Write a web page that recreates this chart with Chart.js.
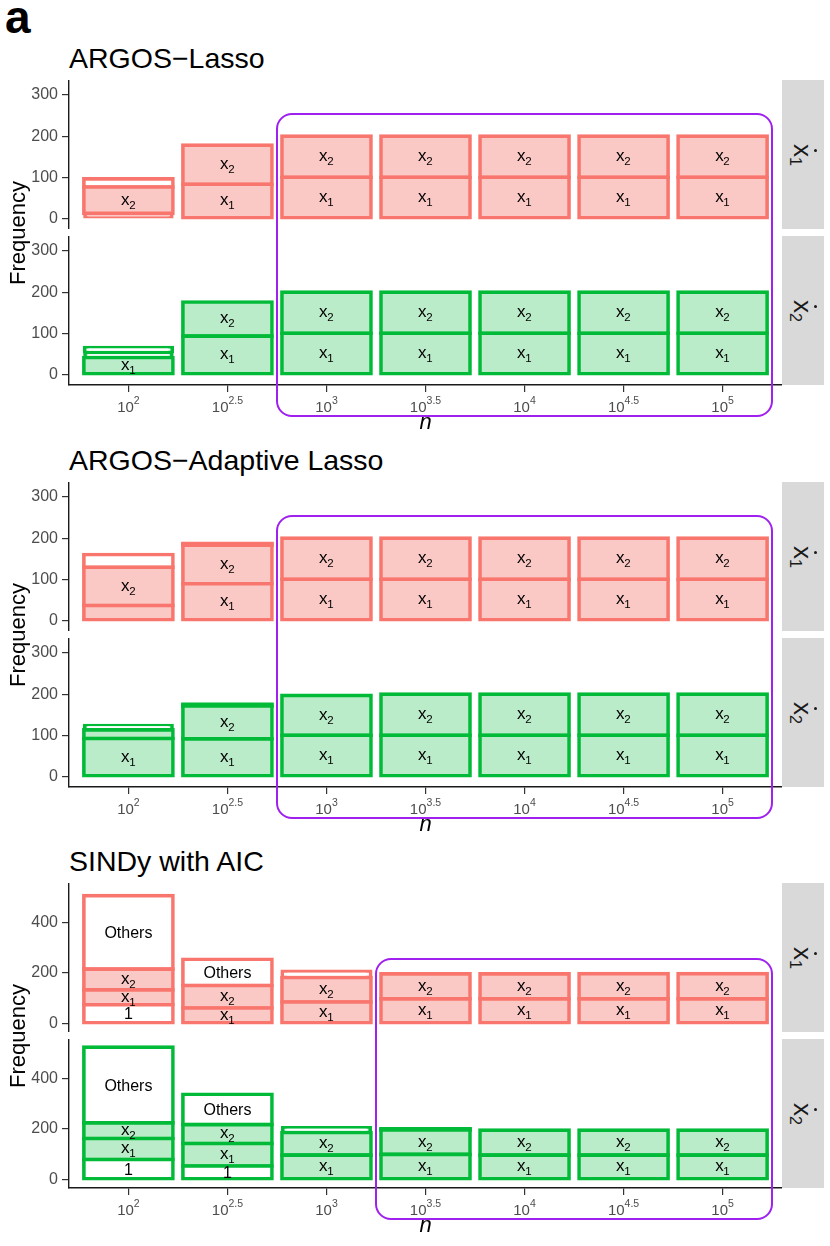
<!DOCTYPE html>
<html>
<head>
<meta charset="utf-8">
<script src="https://cdn.jsdelivr.net/npm/chart.js@4.4.1/dist/chart.umd.min.js"></script>
<style>
  html, body { margin:0; padding:0; background:#fff; }
  body { width:830px; height:1246px; position:relative; overflow:hidden;
         font-family:"Liberation Sans", Arial, Helvetica, sans-serif; color:#000; }
  canvas { position:absolute; left:0; }
  .title { position:absolute; left:69px; font-size:28.5px; line-height:28px; white-space:nowrap; }
  .tag { position:absolute; left:5px; top:-6px; font-size:46px; line-height:46px; font-weight:bold; }
  .ylab { position:absolute; width:200px; text-align:center; font-size:22px; line-height:22px;
          transform:rotate(-90deg); white-space:nowrap; }
  .xlab { position:absolute; width:60px; text-align:center; font-size:22px; line-height:22px; font-style:italic; }
  .strip { position:absolute; left:782px; width:42px; background:#D9D9D9; }
  .stxt { position:absolute; left:50%; top:50%; transform:translate(-50%,-50%) rotate(90deg);
          font-size:26px; line-height:26px; white-space:nowrap; color:#1A1A1A; }
  .stxt .xd { position:relative; display:inline-block; }
  .stxt .dot { position:absolute; left:50%; top:-1px; width:3px; height:3px; margin-left:-1.5px;
               border-radius:50%; background:#1A1A1A; }
  .stxt sub { font-size:16px; vertical-align:-4px; line-height:0; }
  .hl { position:absolute; border:2.7px solid #A020F0; border-radius:16px; box-sizing:border-box; pointer-events:none; }
</style>
</head>
<body>
<div id="root"></div>
<script>
// ---------------- data ----------------
const exponents = ['2', '2.5', '3', '3.5', '4', '4.5', '5'];   // n = 10^e

const argosTicks = [0, 100, 200, 300];
const sindyTicks = [0, 200, 400];

// ARGOS-Lasso, x1-dot
const lassoX1_x1     = [12, 83, 100, 100, 100, 100, 100];
const lassoX1_x2     = [64, 95, 100, 100, 100, 100, 100];
const lassoX1_other  = [20, 0, 0, 0, 0, 0, 0];
// ARGOS-Lasso, x2-dot
const lassoX2_x1     = [41, 93, 100, 100, 100, 100, 100];
const lassoX2_x2     = [0, 83, 100, 100, 100, 100, 100];
const lassoX2_other  = [12, 0, 0, 0, 0, 0, 0];
const lassoX2_other2 = [14, 0, 0, 0, 0, 0, 0];

// ARGOS-Adaptive Lasso, x1-dot
const adaX1_x1    = [36, 89, 100, 100, 100, 100, 100];
const adaX1_x2    = [93, 94, 100, 100, 100, 100, 100];
const adaX1_other = [31, 4, 0, 0, 0, 0, 0];
// ARGOS-Adaptive Lasso, x2-dot
const adaX2_x1    = [92, 91, 100, 100, 100, 100, 100];
const adaX2_x2    = [21, 80, 97, 100, 100, 100, 100];
const adaX2_other = [13, 4, 0, 0, 0, 0, 0];

// SINDy with AIC, x1-dot
const sinX1_one    = [74, 0, 0, 0, 0, 0, 0];
const sinX1_x1     = [59, 61, 85, 97, 97, 97, 97];
const sinX1_x2     = [82, 89, 97, 99, 99, 100, 100];
const sinX1_others = [291, 104, 26, 0, 0, 0, 0];
// SINDy with AIC, x2-dot
const sinX2_one    = [79, 53, 0, 0, 0, 0, 0];
const sinX2_x1     = [83, 89, 96, 99, 96, 96, 96];
const sinX2_x2     = [62, 75, 90, 97, 99, 99, 99];
const sinX2_others = [300, 120, 22, 4, 0, 0, 0];

const LABEL_MIN = 40;   // segments smaller than this carry no text

// ---------------- styling / layout ----------------
const FONT = '"Liberation Sans", Arial, Helvetica, sans-serif';
Chart.defaults.font.family = FONT;
const RED   = { line: '#F8766D', fill: '#FBC9C5' };
const GREEN = { line: '#00BA38', fill: '#BBECC9' };
const PANEL_H = 149, GAP = 7, PLOT_LEFT = 69, PLOT_RIGHT = 782, X_AREA = 42;
const BW = 3.6;

const groups = [
  { title: 'ARGOS−Lasso', top: 80, yMin: -26, yMax: 336.5, ticks: argosTicks, hl: 2, boxTop: 252,
    panels: [
      { strip: '1', col: RED,   series: [['x1', lassoX1_x1], ['x2', lassoX1_x2], ['Others', lassoX1_other]] },
      { strip: '2', col: GREEN, series: [['x1', lassoX2_x1], ['x2', lassoX2_x2], ['Others', lassoX2_other], ['Others', lassoX2_other2]] }
    ] },
  { title: 'ARGOS−Adaptive Lasso', top: 482, yMin: -26, yMax: 336.5, ticks: argosTicks, hl: 2, boxTop: 252,
    panels: [
      { strip: '1', col: RED,   series: [['x1', adaX1_x1], ['x2', adaX1_x2], ['Others', adaX1_other]] },
      { strip: '2', col: GREEN, series: [['x1', adaX2_x1], ['x2', adaX2_x2], ['Others', adaX2_other]] }
    ] },
  { title: 'SINDy with AIC', top: 883, yMin: -34, yMax: 556, ticks: sindyTicks, hl: 3, boxTop: 252,
    panels: [
      { strip: '1', col: RED,   series: [['1', sinX1_one], ['x1', sinX1_x1], ['x2', sinX1_x2], ['Others', sinX1_others]] },
      { strip: '2', col: GREEN, series: [['1', sinX2_one], ['x1', sinX2_x1], ['x2', sinX2_x2], ['Others', sinX2_others]] }
    ] }
];

// ---------------- plugins ----------------
function drawTerm(ctx, term, cx, cy) {
  ctx.save();
  ctx.fillStyle = '#000';
  ctx.textBaseline = 'alphabetic';
  const m = /^x(\d)$/.exec(term);
  if (m) {
    ctx.font = '17px ' + FONT;
    const wx = ctx.measureText('x').width;
    ctx.font = '11.5px ' + FONT;
    const ws = ctx.measureText(m[1]).width;
    const x0 = cx - (wx + ws) / 2;
    ctx.textAlign = 'left';
    ctx.font = '17px ' + FONT;
    ctx.fillText('x', x0, cy + 4.4);
    ctx.font = '11.5px ' + FONT;
    ctx.fillText(m[1], x0 + wx - 0.3, cy + 8.4);
  } else {
    ctx.font = '16px ' + FONT;
    ctx.textAlign = 'center';
    ctx.fillText(term, cx, cy + 5.7);
  }
  ctx.restore();
}

const segLabels = {
  id: 'segLabels',
  afterDatasetsDraw(chart) {
    chart.data.datasets.forEach((ds, di) => {
      const meta = chart.getDatasetMeta(di);
      meta.data.forEach((el, i) => {
        const v = ds.data[i].y;
        if (v == null || v < LABEL_MIN) return;
        drawTerm(chart.ctx, ds.label, el.x, (el.y + el.base) / 2);
      });
    });
  }
};

const xTickLabels = {
  id: 'xTickLabels',
  afterDraw(chart) {
    if (!chart.options.plugins.xTickLabels || !chart.options.plugins.xTickLabels.show) return;
    const ctx = chart.ctx, xs = chart.scales.x, yb = chart.chartArea.bottom;
    ctx.save();
    ctx.fillStyle = '#4D4D4D';
    ctx.textAlign = 'left';
    ctx.textBaseline = 'alphabetic';
    exponents.forEach((e, i) => {
      const px = xs.getPixelForValue(i);
      ctx.font = '15px ' + FONT;
      const wb = ctx.measureText('10').width;
      ctx.font = '10.5px ' + FONT;
      const we = ctx.measureText(e).width;
      const x0 = px - (wb + we) / 2;
      ctx.font = '15px ' + FONT;
      ctx.fillText('10', x0, yb + 27);
      ctx.font = '10.5px ' + FONT;
      ctx.fillText(e, x0 + wb, yb + 19);
    });
    ctx.restore();
  }
};

// ---------------- build ----------------
const root = document.getElementById('root');
function addDiv(cls, html, style) {
  const d = document.createElement('div');
  d.className = cls;
  d.innerHTML = html;
  Object.assign(d.style, style);
  root.appendChild(d);
  return d;
}

// pixel height of one stacked segment, through the chart's own y scale
function segPx(c, v) {
  const y = c.chart.scales.y;
  return Math.abs(y.getPixelForValue(v) - y.getPixelForValue(0));
}

function makeDatasets(panel) {
  return panel.series.map(([term, arr]) => {
    const baseFill = (term === 'x1' || term === 'x2') ? panel.col.fill : '#FFFFFF';
    return {
      label: term,
      data: arr.map((v, i) => ({ x: i, y: v > 0 ? v : null })),
      borderColor: panel.col.line,
      borderSkipped: false,
      clip: false,
      // outlines are centred on the segment edges (as in the original): thin segments become solid lines
      backgroundColor: (c) => {
        if (c.dataIndex === undefined) return baseFill;
        return segPx(c, arr[c.dataIndex]) < BW ? panel.col.line : baseFill;
      },
      borderWidth: (c) => {
        if (c.dataIndex === undefined) return BW;
        return segPx(c, arr[c.dataIndex]) < BW ? 0 : BW;
      },
      inflateAmount: (c) => {
        if (c.dataIndex === undefined) return BW / 2;
        const h = segPx(c, arr[c.dataIndex]);
        if (h >= 2 * BW || h < BW) return BW / 2;
        return (h - BW) / 2;
      },
      barPercentage: 0.9,
      categoryPercentage: 1,
      stack: 's'
    };
  });
}

function makeChart(canvas, g, panel, showX) {
  return new Chart(canvas, {
    type: 'bar',
    data: { datasets: makeDatasets(panel) },
    options: {
      responsive: false,
      animation: false,
      events: [],
      devicePixelRatio: 1,
      layout: { padding: 0 },
      plugins: { legend: { display: false }, tooltip: { enabled: false }, xTickLabels: { show: showX } },
      scales: {
        x: {
          type: 'linear', stacked: true, offset: false,
          min: -0.6, max: exponents.length - 1 + 0.6,
          display: showX,
          afterBuildTicks: (s) => { s.ticks = exponents.map((e, i) => ({ value: i })); },
          afterFit: (s) => { s.height = showX ? X_AREA : 0; s.paddingLeft = 0; s.paddingRight = 0; },
          ticks: { display: false },
          grid: { display: true, drawOnChartArea: false, drawTicks: true, tickLength: 7, color: '#333333', lineWidth: 1.2, offset: false },
          border: { display: true, color: '#1A1A1A', width: 1.4 }
        },
        y: {
          stacked: true,
          min: g.yMin, max: g.yMax,
          afterBuildTicks: (s) => { s.ticks = g.ticks.map(v => ({ value: v })); },
          afterFit: (s) => { s.width = PLOT_LEFT; s.paddingTop = 0; s.paddingBottom = 0; },
          ticks: { color: '#4D4D4D', font: { size: 16 }, padding: 4 },
          grid: { display: true, drawOnChartArea: false, drawTicks: true, tickLength: 7, color: '#333333', lineWidth: 1.2 },
          border: { display: true, color: '#1A1A1A', width: 1.4 }
        }
      }
    },
    plugins: [segLabels, xTickLabels]
  });
}

addDiv('tag', 'a', {});

groups.forEach((g) => {
  const T = g.top;
  addDiv('title', g.title, { top: (T - 12.3 - 23.7) + 'px' });
  const charts = [];
  g.panels.forEach((p, pi) => {
    const top = T + pi * (PANEL_H + GAP);
    const showX = pi === g.panels.length - 1;
    const cv = document.createElement('canvas');
    cv.width = PLOT_RIGHT;
    cv.height = PANEL_H + (showX ? X_AREA : 0);
    cv.style.top = top + 'px';
    cv.style.width = cv.width + 'px';
    cv.style.height = cv.height + 'px';
    root.appendChild(cv);
    charts.push({ chart: makeChart(cv, g, p, showX), top });
    addDiv('strip',
      '<div class="stxt"><span class="xd">x<span class="dot"></span></span><sub>' + p.strip + '</sub></div>',
      { top: top + 'px', height: PANEL_H + 'px' });
  });
  const cy = T + (PANEL_H * 2 + GAP) / 2;
  addDiv('ylab', 'Frequency', { left: (18.4 - 100) + 'px', top: (cy - 11) + 'px' });
  const bottom = charts[charts.length - 1];
  const axisY = bottom.top + bottom.chart.chartArea.bottom;
  const xs = bottom.chart.scales.x;
  const mid = (bottom.chart.chartArea.left + bottom.chart.chartArea.right) / 2;
  addDiv('xlab', 'n', { left: (mid - 30) + 'px', top: (axisY + 45 - 18.6) + 'px' });
  const L = xs.getPixelForValue(g.hl - 0.5);
  const R = xs.getPixelForValue(exponents.length - 0.5);
  const topY = charts[0].top + charts[0].chart.scales.y.getPixelForValue(g.boxTop);
  const botY = axisY + 31;
  addDiv('hl', '', {
    left: (L - 1.35) + 'px', top: (topY - 1.35) + 'px',
    width: (R - L + 2.7) + 'px', height: (botY - topY + 2.7) + 'px'
  });
});
</script>
</body>
</html>
